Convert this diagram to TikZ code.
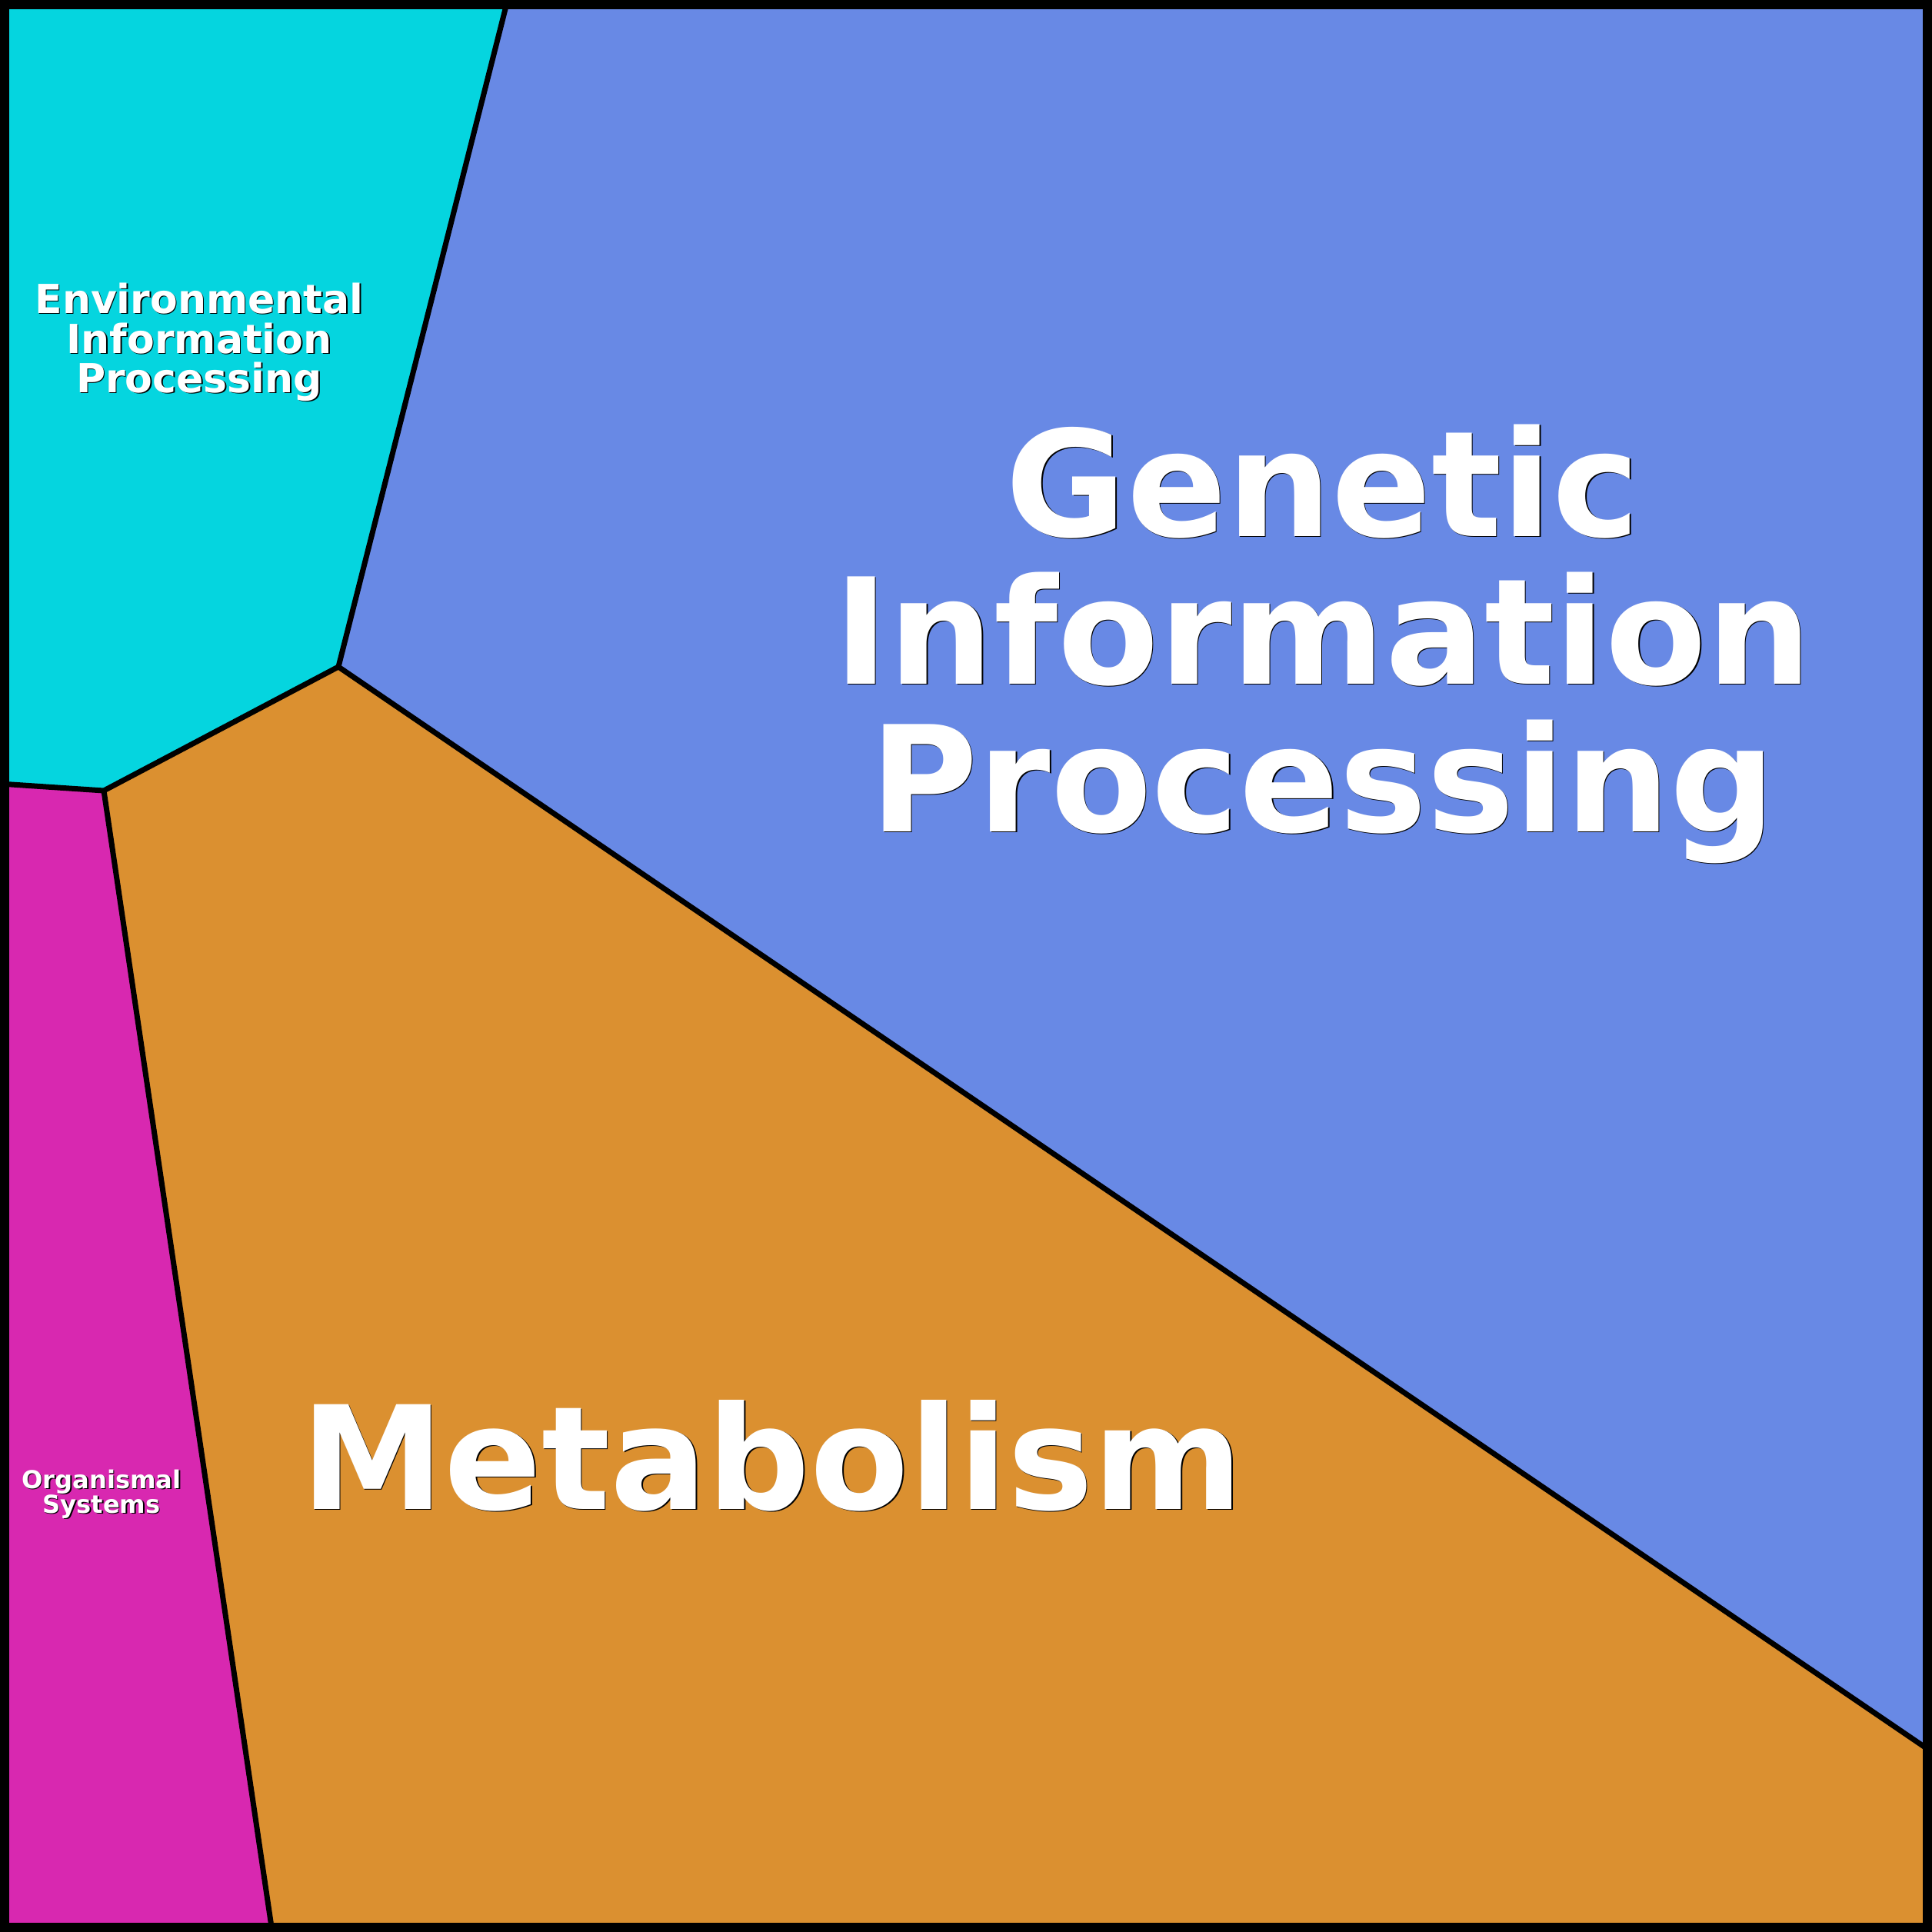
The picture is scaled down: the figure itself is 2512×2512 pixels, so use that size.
\documentclass[tikz,border=0pt]{standalone}
\usepackage{fontspec}
\setmainfont{DejaVu Sans}
\definecolor{envc}{RGB}{5,213,223}
\definecolor{genc}{RGB}{104,137,229}
\definecolor{metc}{RGB}{219,144,48}
\definecolor{orgc}{RGB}{216,40,176}
\tikzset{
  cell/.style={draw=black,line width=0.7mm,line join=round},
  lbl/.style={anchor=base,inner sep=0pt,text=white},
  lblsh/.style={anchor=base,inner sep=0pt,text=black,xshift=0.15mm,yshift=-0.15mm},
}
\newcommand\shlabel[4]{%
  \node[lblsh,font=\bfseries\fontsize{#3}{#3}\selectfont] at (#2) {#4};
  \node[lbl,font=\bfseries\fontsize{#3}{#3}\selectfont] (#1) at (#2) {#4};
}
\begin{document}
\begin{tikzpicture}[x=0.1mm,y=-0.1mm]
\useasboundingbox (0,0) rectangle (2512,2512);
\coordinate (tl) at (0,0);
\coordinate (tr) at (2512,0);
\coordinate (br) at (2512,2512);
\coordinate (bl) at (0,2512);
\coordinate (ptop) at (660,0);
\coordinate (pc) at (440,867);
\coordinate (pl) at (135,1028);
\coordinate (pleft) at (0,1019);
\coordinate (pbot) at (354,2512);
\coordinate (pright) at (2512,2278);
% cells
\fill[envc] (tl) -- (ptop) -- (pc) -- (pl) -- (pleft) -- cycle;
\fill[genc] (ptop) -- (tr) -- (pright) -- (pc) -- cycle;
\fill[metc] (pc) -- (pright) -- (br) -- (pbot) -- (pl) -- cycle;
\fill[orgc] (pleft) -- (pl) -- (pbot) -- (bl) -- cycle;
\draw[cell] (ptop) -- (pc) -- (pright);
\draw[cell] (pleft) -- (pl) -- (pc);
\draw[cell] (pl) -- (pbot);
\draw[draw=black,line width=1.2mm] (6,6) rectangle (2506,2506);
% labels
\shlabel{env1}{259,407}{14.8pt}{Environmental}
\shlabel{env2}{259,459}{14.8pt}{Information}
\shlabel{env3}{259,510}{14.8pt}{Processing}
\shlabel{org1}{132,1935}{9.15pt}{Organismal}
\shlabel{org2}{132,1967}{9.15pt}{Systems}
\shlabel{gen1}{1720,697}{54.5pt}{Genetic}
\shlabel{gen2}{1720,889}{54.5pt}{Information}
\shlabel{gen3}{1720,1081}{54.5pt}{Processing}
\shlabel{met}{1004,1962}{53.2pt}{Metabolism}
\end{tikzpicture}
\end{document}
